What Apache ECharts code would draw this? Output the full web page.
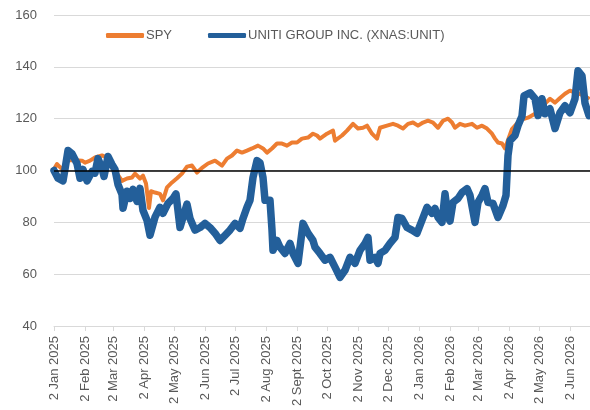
<!DOCTYPE html>
<html>
<head>
<meta charset="utf-8">
<script src="https://cdn.jsdelivr.net/npm/echarts@6/dist/echarts.min.js"></script>
<style>
  html, body { margin: 0; padding: 0; background: #fff; }
  #chart { width: 590px; height: 410px; }
</style>
</head>
<body>
<div id="chart"></div>
<script>
// series names
var seriesNames = ['SPY', 'UNITI GROUP INC. (XNAS:UNIT)'];

// SPY, rebased to 100
var spyDates = ['2025-01-02','2025-01-05','2025-01-10','2025-01-16','2025-01-23','2025-01-30','2025-02-02','2025-02-07',
  '2025-02-12','2025-02-19','2025-02-24','2025-03-01','2025-03-06','2025-03-11','2025-03-16','2025-03-21','2025-03-24',
  '2025-03-29','2025-04-01','2025-04-04','2025-04-07','2025-04-09','2025-04-13','2025-04-18','2025-04-21','2025-04-25',
  '2025-04-30','2025-05-05','2025-05-10','2025-05-15','2025-05-20','2025-05-25','2025-05-30','2025-06-05','2025-06-12',
  '2025-06-19','2025-06-24','2025-06-29','2025-07-04','2025-07-09','2025-07-14','2025-07-19','2025-07-25','2025-07-30',
  '2025-08-03','2025-08-08','2025-08-13','2025-08-18','2025-08-23','2025-08-28','2025-09-02','2025-09-07','2025-09-13',
  '2025-09-18','2025-09-22','2025-09-25','2025-10-02','2025-10-08','2025-10-10','2025-10-17','2025-10-22','2025-10-28',
  '2025-11-02','2025-11-07','2025-11-11','2025-11-16','2025-11-21','2025-11-24','2025-12-01','2025-12-07','2025-12-12',
  '2025-12-17','2025-12-22','2025-12-27','2026-01-01','2026-01-06','2026-01-11','2026-01-16','2026-01-21','2026-01-26',
  '2026-01-31','2026-02-04','2026-02-07','2026-02-12','2026-02-17','2026-02-24','2026-03-01','2026-03-06','2026-03-11',
  '2026-03-16','2026-03-19','2026-03-22','2026-03-26','2026-03-29','2026-04-05','2026-04-13','2026-04-21','2026-04-28',
  '2026-05-03','2026-05-08','2026-05-13','2026-05-18','2026-05-23','2026-05-28','2026-06-02','2026-06-07','2026-06-12',
  '2026-06-20'];
var spyValues = [100.5,102.5,100.5,104,104,103.8,103,103.8,
  105,105.8,105,101,98.8,96,96.9,97.3,98.8,
  96.9,98,95,85.5,92,91.5,91,88.5,93.5,
  95.4,97,98.8,101.5,101.9,99.2,101,102.7,103.8,
  101.9,104.6,105.8,107.7,106.9,107.7,108.5,109.6,108.5,
  106.9,108.5,110.4,110.4,109.6,110.8,110.8,112.3,112.7,
  114.2,113.5,112.3,114.2,115.4,111.5,113.5,115.4,118,
  116.2,116.5,117.3,114.2,112.3,116.5,117.3,118,117.3,
  116.2,118,118.5,117.3,118.5,119.2,118.5,116.5,119.2,
  120,118.5,116.5,118,117.3,118,116.5,117.3,116.2,
  114.2,112.3,110.8,110.4,108.5,116,119.5,120.4,121.9,
  124,125.8,127.7,126.2,128,129.6,130.8,130,129.5,
  128];

// Uniti Group, rebased to 100
var unitDates = ['2025-01-02','2025-01-06','2025-01-11','2025-01-13','2025-01-16','2025-01-20','2025-01-25','2025-01-28',
  '2025-01-31','2025-02-04','2025-02-09','2025-02-12','2025-02-15','2025-02-19','2025-02-21','2025-02-25','2025-03-01',
  '2025-03-04','2025-03-07','2025-03-11','2025-03-12','2025-03-16','2025-03-19','2025-03-22','2025-03-26','2025-03-29',
  '2025-04-01','2025-04-05','2025-04-08','2025-04-13','2025-04-18','2025-04-21','2025-04-26','2025-05-01','2025-05-04',
  '2025-05-08','2025-05-15','2025-05-18','2025-05-23','2025-05-28','2025-06-02','2025-06-07','2025-06-12','2025-06-17',
  '2025-06-22','2025-06-27','2025-07-02','2025-07-07','2025-07-10','2025-07-14','2025-07-17','2025-07-20','2025-07-24',
  '2025-07-27','2025-07-30','2025-08-01','2025-08-06','2025-08-08','2025-08-09','2025-08-13','2025-08-16','2025-08-21',
  '2025-08-26','2025-08-29','2025-09-03','2025-09-08','2025-09-13','2025-09-18','2025-09-20','2025-09-25','2025-09-30',
  '2025-10-05','2025-10-10','2025-10-15','2025-10-20','2025-10-25','2025-10-30','2025-11-04','2025-11-09','2025-11-12',
  '2025-11-14','2025-11-19','2025-11-22','2025-11-24','2025-11-29','2025-12-04','2025-12-09','2025-12-12','2025-12-16',
  '2025-12-21','2025-12-26','2025-12-31','2026-01-05','2026-01-10','2026-01-15','2026-01-18','2026-01-21','2026-01-25',
  '2026-01-28','2026-01-31','2026-02-02','2026-02-05','2026-02-10','2026-02-14','2026-02-19','2026-02-22','2026-02-27',
  '2026-03-02','2026-03-06','2026-03-09','2026-03-12','2026-03-17','2026-03-22','2026-03-27','2026-03-30','2026-04-01',
  '2026-04-03','2026-04-08','2026-04-11','2026-04-15','2026-04-17','2026-04-23','2026-04-28','2026-05-01','2026-05-05',
  '2026-05-08','2026-05-13','2026-05-18','2026-05-23','2026-05-28','2026-06-02','2026-06-07','2026-06-10','2026-06-14',
  '2026-06-17','2026-06-21'];
var unitValues = [100,97,96,100.5,107.7,106.5,102.7,97,
  100.4,96,99.6,99,104.6,100.8,97.7,105.4,102.3,
  100.4,94.6,90.8,85.4,92,89.2,92.7,88.1,93.1,
  84.6,80.8,75,82,85.8,83.5,87.3,89.2,91,
  78,87,81.5,77,78,79.6,78,75.8,73,
  75,77,79.6,77.7,81.5,85.8,88.5,97.3,103.8,
  103,97.3,88.5,88.5,77,69.2,73,70.4,68,
  71.9,68,64.2,79.6,75.8,73,70.4,68,65.4,
  66.5,62.7,58.8,61.5,66.5,64.2,69.2,71.9,74.2,
  65.4,66.5,64.2,68,69.2,71.9,74.2,81.9,81.5,
  78,77,75.8,80.8,85.8,83.5,85.4,81.9,80,
  91,82,80.5,87.7,89.2,91.5,93,90.4,80,
  87.7,90.4,93,87.7,87.3,81.9,86.5,90.4,105.8,
  111.5,113.5,117.3,121,128.8,130,127.7,121.2,127.7,
  121.9,123.8,116.2,122.3,125,122.3,127.7,138.5,136.5,
  126,121.2];

// x axis ticks and labels
var tickDates = ['2025-01-02','2025-02-02','2025-03-02','2025-04-02','2025-05-02','2025-06-02','2025-07-02','2025-08-02',
  '2025-09-02','2025-10-02','2025-11-02','2025-12-02','2026-01-02','2026-02-02','2026-03-02','2026-04-02','2026-05-02',
  '2026-06-02'];
var tickLabels = ['2 Jan 2025','2 Feb 2025','2 Mar 2025','2 Apr 2025','2 May 2025','2 Jun 2025','2 Jul 2025','2 Aug 2025',
  '2 Sept 2025','2 Oct 2025','2 Nov 2025','2 Dec 2025','2 Jan 2026','2 Feb 2026','2 Mar 2026','2 Apr 2026','2 May 2026',
  '2 Jun 2026'];

function ts(s) {
    var p = s.split('-');
    return new Date(+p[0], +p[1] - 1, +p[2]).getTime();
}
function pairs(dates, values) {
    return dates.map(function (d, i) { return [ts(d), values[i]]; });
}
var tickTimes = tickDates.map(ts);

var myChart = echarts.init(document.getElementById('chart'));
var option = {
    animation: false,
    textStyle: { fontFamily: 'Liberation Sans, Arial, sans-serif' },
    legend: {
        data: seriesNames,
        left: 101,
        top: 24,
        icon: 'roundRect',
        itemWidth: 38,
        itemHeight: 5,
        itemGap: 36,
        textStyle: { color: '#595959', fontSize: 13, padding: [0, 0, 0, -3] }
    },
    grid: { left: 54, right: 0, top: 15, bottom: 84, containLabel: false },
    // dates as timestamps on a value axis so the ticks can sit on the 2nd of each month
    xAxis: {
        type: 'value',
        min: ts('2025-01-02'),
        max: ts('2026-06-22'),
        axisLine: { show: true, lineStyle: { color: '#d9d9d9' } },
        axisTick: { show: true, customValues: tickTimes, length: 5, lineStyle: { color: '#d9d9d9' } },
        splitLine: { show: false },
        axisLabel: {
            customValues: tickTimes,
            rotate: 90,
            margin: 10,
            fontSize: 13,
            color: '#595959',
            formatter: function (value) {
                for (var i = 0; i < tickTimes.length; i++) {
                    if (Math.abs(tickTimes[i] - value) < 43200000) return tickLabels[i];
                }
                return '';
            }
        }
    },
    yAxis: {
        type: 'value',
        min: 40,
        max: 160,
        interval: 20,
        axisLine: { show: false },
        axisTick: { show: false },
        splitLine: { lineStyle: { color: '#d9d9d9', width: 1 } },
        axisLabel: { fontSize: 13, color: '#595959', margin: 17 }
    },
    series: [
        {
            name: seriesNames[0],
            type: 'line',
            z: 2,
            showSymbol: false,
            symbol: 'none',
            color: '#ED7D31',
            lineStyle: { color: '#ED7D31', width: 4, cap: 'round', join: 'round' },
            data: pairs(spyDates, spyValues),
            markLine: {
                silent: true,
                symbol: 'none',
                label: { show: false },
                lineStyle: { color: '#000', width: 1.5, type: 'solid' },
                data: [{ yAxis: 100 }]
            }
        },
        {
            name: seriesNames[1],
            type: 'line',
            z: 3,
            showSymbol: false,
            symbol: 'none',
            color: '#235F9A',
            lineStyle: { color: '#235F9A', width: 7.5, cap: 'round', join: 'round' },
            data: pairs(unitDates, unitValues)
        }
    ]
};
myChart.setOption(option);
</script>
</body>
</html>
